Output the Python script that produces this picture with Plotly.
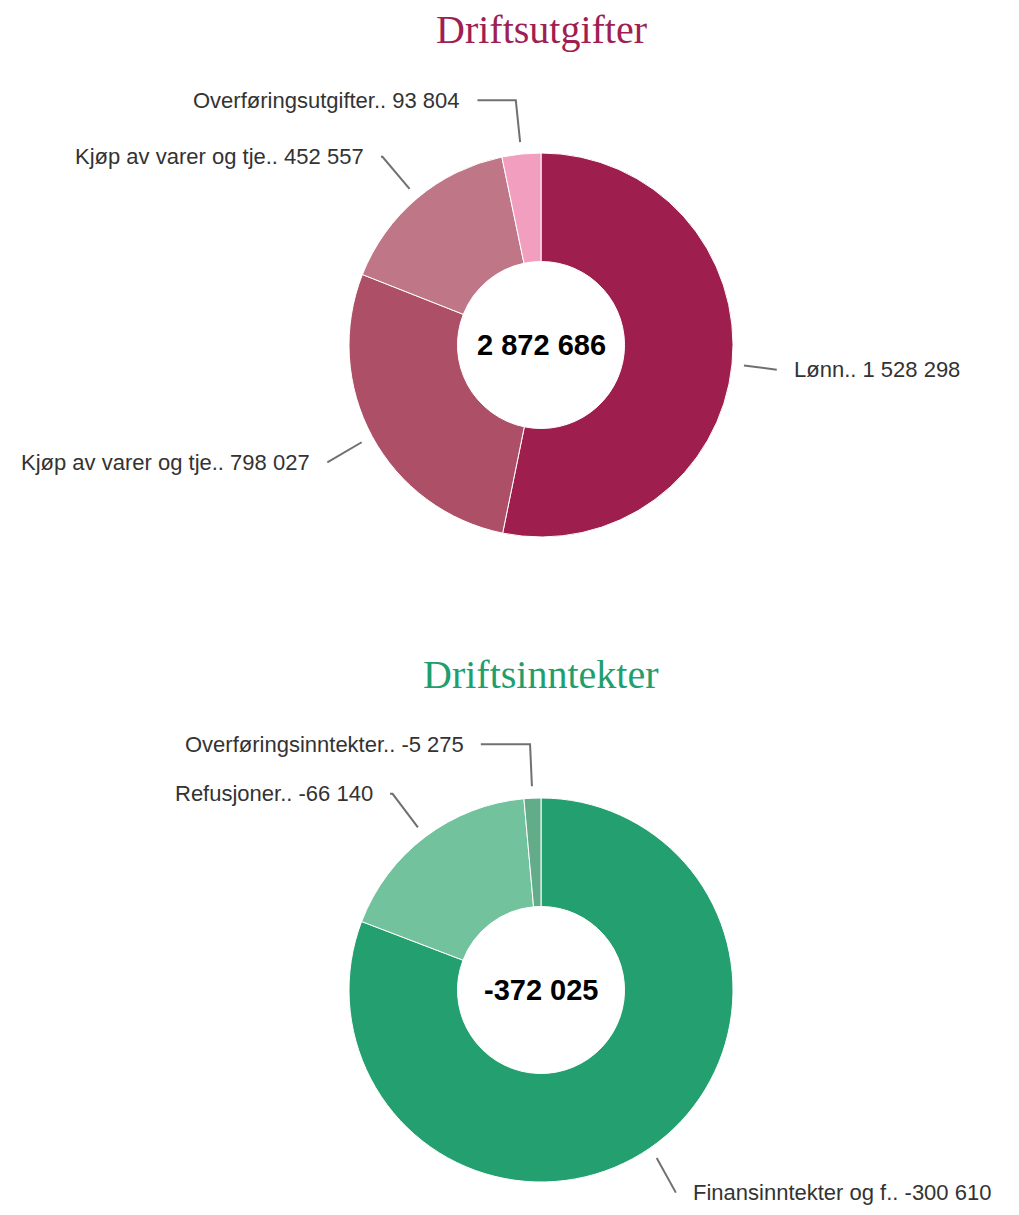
import math
import plotly.graph_objects as go

# ---- data ----
top_title = "Driftsutgifter"
top_labels = ["Lønn", "Kjøp av varer og tje", "Kjøp av varer og tje", "Overføringsutgifter"]
top_values = [1528298, 798027, 452557, 93804]
top_colors = ["#9e1f4e", "#ad4f67", "#bf7787", "#f19ebf"]

bot_title = "Driftsinntekter"
bot_labels = ["Finansinntekter og f", "Refusjoner", "Overføringsinntekter"]
bot_values = [-300610, -66140, -5275]
bot_colors = ["#24a070", "#73c29e", "#62ac8a"]

PAGE_W, PAGE_H = 1019, 1215
OFF = 8  # browser body margin
W, H = PAGE_W - 2 * OFF, PAGE_H - 2 * OFF
R = 192
HOLE = 0.435
LABEL_FONT = dict(family="Liberation Sans, Arial, sans-serif", size=22, color="#333333")
CONN_COLOR = "#707070"


def fmt(v):
    s = f"{abs(v):,}".replace(",", " ")
    return ("-" if v < 0 else "") + s


fig = go.Figure()
annotations = []


def add_donut(cx, cy, title, title_y, title_color, labels, values, colors):
    absvals = [abs(v) for v in values]
    total = sum(absvals)
    fx0, fx1 = cx - R - OFF, cx + R - OFF
    fy0, fy1 = cy - R - OFF, cy + R - OFF
    fig.add_trace(go.Pie(
        values=absvals, labels=[f"{l} {i}" for i, l in enumerate(labels)],
        marker=dict(colors=colors, line=dict(color="white", width=1)),
        sort=False, direction="clockwise", rotation=0, hole=HOLE,
        textinfo="none", showlegend=False,
        domain=dict(x=[fx0 / W, fx1 / W], y=[1 - fy1 / H, 1 - fy0 / H]),
    ))
    annotations.append(dict(x=cx, y=title_y, xref="x", yref="y", text=title,
                            showarrow=False, xanchor="center", yanchor="middle",
                            font=dict(family="Liberation Serif, Times New Roman, serif", size=40,
                                      color=title_color)))
    annotations.append(dict(x=cx, y=cy, xref="x", yref="y", text=f"<b>{fmt(sum(values))}</b>",
                            showarrow=False, xanchor="center", yanchor="middle",
                            font=dict(family="Liberation Sans, Arial, sans-serif", size=29, color="#000000")))
    cum = 0
    for lab, v, a in zip(labels, values, absvals):
        mid = (cum + a / 2) / total
        cum += a
        ang = 2 * math.pi * mid
        sx, sy = math.sin(ang), -math.cos(ang)
        sign = 1 if sx >= 0 else -1
        ax, ay = cx + 204 * sx, cy + 204 * sy
        px, py = cx + 246 * sx, cy + 246 * sy
        dy = py - cy
        rl = 252 if sign > 0 else 257
        lx = cx + sign * math.sqrt(max(rl ** 2 - dy ** 2, 0))
        ex = lx - sign * 15
        if sign > 0:
            px = min(px, ex)
        else:
            px = max(px, ex)
        fig.add_trace(go.Scatter(x=[ax, px, ex], y=[ay, py, py], mode="lines",
                                 line=dict(color=CONN_COLOR, width=2), hoverinfo="skip",
                                 showlegend=False))
        annotations.append(dict(x=lx, y=py, xref="x", yref="y", text=f"{lab}.. {fmt(v)}",
                                showarrow=False, xanchor="left" if sign > 0 else "right",
                                yanchor="middle", font=LABEL_FONT))


add_donut(541, 345, top_title, 29, "#a01f52", top_labels, top_values, top_colors)
add_donut(541, 990, bot_title, 674, "#1f9e6e", bot_labels, bot_values, bot_colors)

fig.update_layout(
    width=W, height=H, margin=dict(l=0, r=0, t=0, b=0),
    paper_bgcolor="white", plot_bgcolor="white",
    xaxis=dict(range=[OFF, OFF + W], visible=False, fixedrange=True, domain=[0, 1]),
    yaxis=dict(range=[OFF + H, OFF], visible=False, fixedrange=True, domain=[0, 1]),
    annotations=annotations,
)

fig.write_html("out.html")
